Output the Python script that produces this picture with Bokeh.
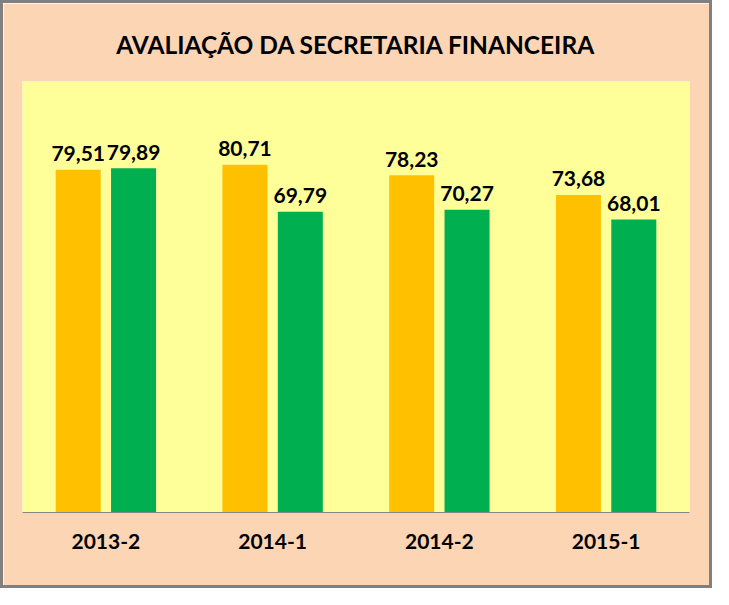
from bokeh.plotting import figure
from bokeh.models import ColumnDataSource, FactorRange, Range1d
from bokeh.transform import dodge
from bokeh.core.properties import value
from bokeh.embed import file_html
from bokeh.resources import INLINE

categories = ["2013-2", "2014-1", "2014-2", "2015-1"]
serie_a = [79.51, 80.71, 78.23, 73.68]
serie_b = [79.89, 69.79, 70.27, 68.01]
title_text = "AVALIAÇÃO DA SECRETARIA FINANCEIRA"

def fmt(v):
    return f"{v:.2f}".replace(".", ",")

src = ColumnDataSource(dict(
    cat=categories, a=serie_a, b=serie_b,
    la=[fmt(v) for v in serie_a], lb=[fmt(v) for v in serie_b],
))

p = figure(width=712, height=588, x_range=FactorRange(*categories), y_range=Range1d(0, 100),
           output_backend="svg", toolbar_location=None, title=title_text,
           min_border_left=19, min_border_right=26, min_border_top=78, min_border_bottom=79)
p.background_fill_color = "#FFFF99"
p.border_fill_color = "#FCD5B5"
p.outline_line_color = None
p.styles = {"border": "3px solid #808080", "box-sizing": "border-box"}

p.title.text_font = "Lato"
p.title.text_font_size = "24.5px"
p.title.text_font_style = "bold"
p.title.text_color = "#000000"
p.title.align = "center"
p.title.standoff = 45

off = 0.166
w = 0.27
p.vbar(x=dodge("cat", -off, range=p.x_range), top="a", width=w, source=src,
       fill_color="#FFC000", line_color=None)
p.vbar(x=dodge("cat", off, range=p.x_range), top="b", width=w, source=src,
       fill_color="#00B050", line_color=None)

for col, lab, o in (("a", "la", -off), ("b", "lb", off)):
    p.text(x=dodge("cat", o, range=p.x_range), y=col, text=lab, source=src,
           text_align="center", text_baseline="alphabetic", y_offset=-16,
           text_font=value("Lato"), text_font_style="bold", text_font_size="21px",
           text_color="#000000")

p.yaxis.visible = False
p.xgrid.grid_line_color = None
p.ygrid.grid_line_color = None
p.xaxis.axis_line_color = "#868686"
p.xaxis.major_tick_line_color = None
p.xaxis.minor_tick_line_color = None
p.xaxis.major_label_text_font = "Lato"
p.xaxis.major_label_text_font_style = "bold"
p.xaxis.major_label_text_font_size = "21px"
p.xaxis.major_label_text_color = "#000000"
p.xaxis.major_label_standoff = 15

open("out.html", "w").write(file_html(p, INLINE))
